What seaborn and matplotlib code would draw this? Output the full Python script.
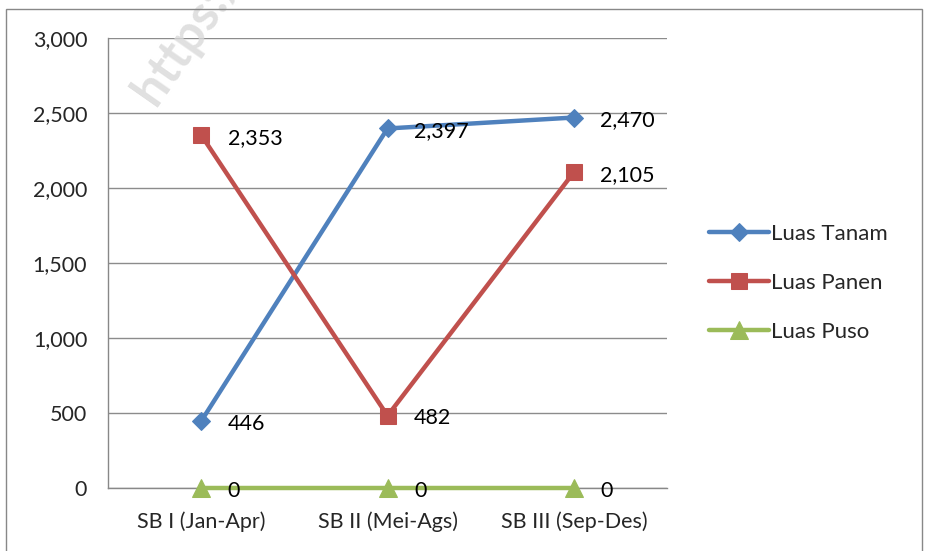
import matplotlib.pyplot as plt
import matplotlib.patches as patches
import seaborn as sns

categories = ["SB I (Jan-Apr)", "SB II (Mei-Ags)", "SB III (Sep-Des)"]
luas_tanam = [446, 2397, 2470]
luas_panen = [2353, 482, 2105]
luas_puso = [0, 0, 0]

series = [
    ("Luas Tanam", luas_tanam, "#4F81BD", "D", 9),
    ("Luas Panen", luas_panen, "#C0504D", "s", 12),
    ("Luas Puso", luas_puso, "#9BBB59", "^", 13),
]

sns.set_style("white")
plt.rcParams["font.family"] = ["Lato", "DejaVu Sans"]

fig = plt.figure(figsize=(9.25, 5.51), dpi=100)
ax = fig.add_axes([0.1168, 0.1143, 0.6043, 0.8167])

x = list(range(len(categories)))
for name, vals, color, marker, ms in series:
    sns.lineplot(x=x, y=vals, ax=ax, color=color, marker=marker, markersize=ms,
                 markeredgecolor=color, linewidth=3.2, label=name, zorder=3, clip_on=False)
    for xi, v in zip(x, vals):
        ax.annotate(f"{v:,}", (xi, v), xytext=(19, -2), textcoords="offset points",
                    ha="left", va="center", fontsize=15.5, color="black", zorder=4)

ax.set_xlim(-0.5, 2.5)
ax.set_ylim(0, 3000)
ax.set_yticks(range(0, 3001, 500))
ax.set_yticklabels([f"{t:,}" for t in range(0, 3001, 500)])
ax.set_xticks(x)
ax.set_xticklabels(categories)
ax.set_xticks([-0.5, 0.5, 1.5, 2.5], minor=True)
ax.tick_params(axis="x", which="major", length=0, pad=17, labelsize=15.5)
ax.tick_params(axis="x", which="minor", length=6, color="#888888", width=1)
ax.tick_params(axis="y", length=6, color="#888888", width=1, pad=9, labelsize=15.5)
ax.grid(axis="y", color="#8c8c8c", linewidth=1)
ax.set_axisbelow(True)
for side in ["top", "right"]:
    ax.spines[side].set_visible(False)
for side in ["left", "bottom"]:
    ax.spines[side].set_color("#888888")
    ax.spines[side].set_linewidth(1)
ax.set_xlabel("")
ax.set_ylabel("")

leg = ax.legend(loc="center left", bbox_to_anchor=(0.757, 0.487), bbox_transform=fig.transFigure,
                frameon=False, fontsize=16, handlelength=2.7, handletextpad=0.1,
                labelspacing=1.3, borderaxespad=0)

# watermark
fig.text(0.21, 0.95, "https://", rotation=55, fontsize=36, fontweight="bold",
         color="#d9d9d9", alpha=0.8, ha="center", va="center", zorder=0)

# outer border
fig.patches.append(patches.Rectangle((0.0065, -0.01), 0.9905, 0.9935, transform=fig.transFigure,
                                     fill=False, edgecolor="#888888", linewidth=1))

fig.savefig("out.png", dpi=100)
